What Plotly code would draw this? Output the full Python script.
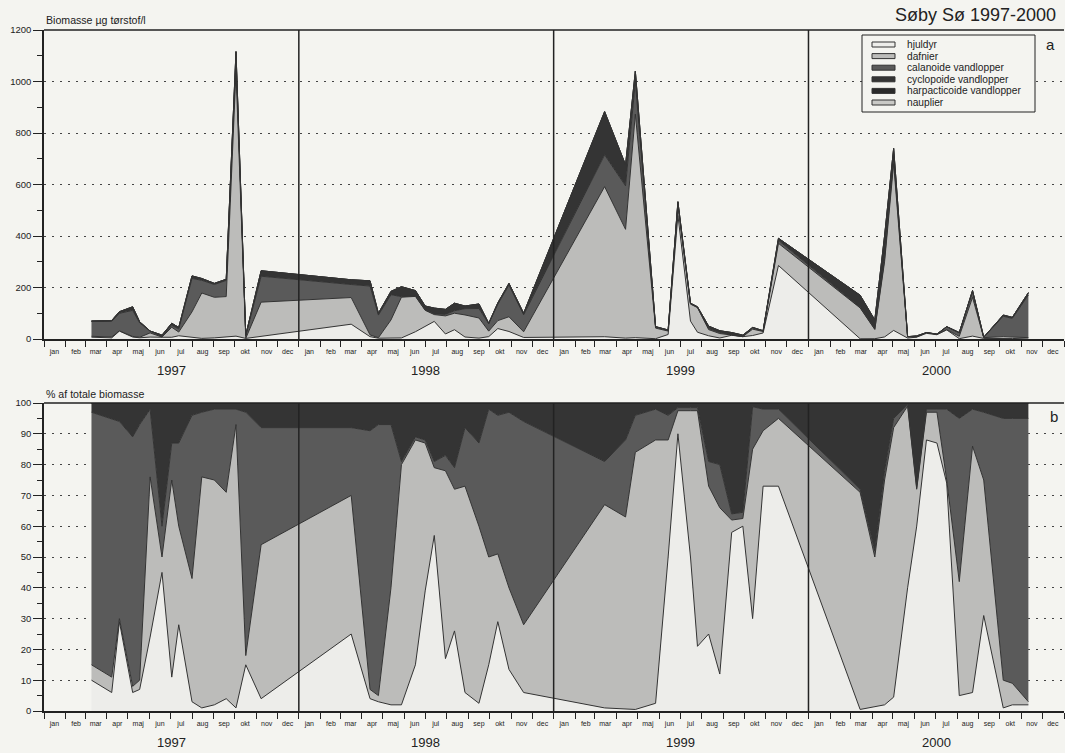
import plotly.graph_objects as go

# Sampling dates (Søby Sø zooplankton)
dates = [
    "1997-03-10", "1997-04-08", "1997-04-19", "1997-05-08", "1997-05-18", "1997-06-02",
    "1997-06-19", "1997-07-03", "1997-07-13", "1997-08-01", "1997-08-15", "1997-09-02",
    "1997-09-19", "1997-10-03", "1997-10-17", "1997-11-08",
    "1998-03-17", "1998-04-13", "1998-04-25", "1998-05-13", "1998-05-28", "1998-06-17",
    "1998-07-01", "1998-07-14", "1998-07-30", "1998-08-12", "1998-08-27", "1998-09-16",
    "1998-09-30", "1998-10-13", "1998-10-29", "1998-11-19",
    "1999-03-15", "1999-04-14", "1999-04-28", "1999-05-27", "1999-06-14", "1999-06-28",
    "1999-07-16", "1999-07-26", "1999-08-11", "1999-08-27", "1999-09-13", "1999-09-29",
    "1999-10-13", "1999-10-28", "1999-11-19",
    "2000-03-15", "2000-04-05", "2000-04-19", "2000-05-02", "2000-05-22", "2000-06-04",
    "2000-06-18", "2000-07-03", "2000-07-17", "2000-08-04", "2000-08-23", "2000-09-08",
    "2000-10-06", "2000-10-19", "2000-11-11",
]

# Total biomass, µg dry weight per litre
total = [
    70, 72, 106, 125, 67, 31, 15, 61, 45, 245, 235, 216, 232, 1116, 15, 265,
    230, 226, 100, 185, 203, 188, 128, 120, 115, 139, 128, 136, 61, 140, 216, 100,
    883, 676, 1040, 48, 35, 533, 139, 125, 50, 32, 25, 15, 45, 32, 391,
    170, 74, 400, 740, 9, 12, 25, 19, 48, 25, 188, 7, 93, 84, 180,
]

# Share of total biomass per group, %
hjuldyr = [
    10, 6, 29, 6, 7, 24, 45, 11, 28, 3, 1, 2, 4, 1, 15, 4,
    25, 4, 3, 2, 2, 15, 39, 57, 17, 26, 6, 2.5, 15, 29, 13.5, 6,
    1, 0.5, 0.5, 2.5, 50, 90, 50, 21, 25, 12, 58, 60, 30, 73, 73,
    0.5, 1.5, 2, 4.5, 40, 60, 88, 87, 74, 5, 6, 31, 1, 2, 2,
]
dafnier = [
    5, 5, 1, 2, 3, 52, 5, 64, 32, 40, 75, 73, 67, 92, 3, 50,
    45, 3, 2, 38, 78, 73, 48, 22, 61, 46, 67, 57.5, 35, 22, 26.5, 22,
    66, 62.5, 83.5, 85.5, 38, 7.5, 47.5, 76.5, 48, 54, 4, 2.5, 55, 18, 22,
    70.5, 48.5, 73, 87.5, 59, 12, 9, 10, 1, 37, 80, 44, 9, 7, 1,
]
calanoide = [
    82, 84, 64, 81, 83, 22, 10, 12, 27, 53, 21, 23, 27, 5, 79, 38,
    22, 84, 88, 53, 1, 1, 1, 2, 5, 7, 19, 27, 48, 45, 57, 66,
    14, 25, 12, 10, 8, 1, 1, 1, 8, 14, 2, 2, 13.8, 7, 3,
    1, 2, 3, 3, 0.5, 0.5, 1, 1, 23, 53, 12, 22, 85, 86, 92,
]
cyclopoide = [
    3, 5, 6, 11, 7, 2, 40, 13, 13, 4, 3, 2, 2, 2, 3, 8,
    8, 9, 7, 7, 19, 11, 12, 19, 17, 21, 8, 13, 2, 4, 3, 6,
    19, 12, 4, 2, 4, 1.5, 1.5, 1.5, 19, 20, 36, 35.5, 1.2, 2, 2,
    28, 48, 22, 5, 0.5, 27.5, 2, 2, 2, 5, 2, 3, 5, 5, 5,
]
harpacticoide = [0] * len(dates)
nauplier = [0] * len(dates)

groups = [
    ("hjuldyr", hjuldyr, "#ededea"),
    ("dafnier", dafnier, "#bcbcba"),
    ("calanoide vandlopper", calanoide, "#5a5a5a"),
    ("cyclopoide vandlopper", cyclopoide, "#343434"),
    ("harpacticoide vandlopper", harpacticoide, "#2a2a2a"),
    ("nauplier", nauplier, "#c9c9c6"),
]

months = ["jan", "feb", "mar", "apr", "maj", "jun", "jul", "aug", "sep", "okt", "nov", "dec"]
years = [1997, 1998, 1999, 2000]

W, H = 1065, 753
BG = "#f4f4f0"
INK = "#222222"
FONT = "Liberation Sans, Arial, sans-serif"


def px_x(p):
    return p / W


def px_y(p):
    return 1 - p / H


def label(x, y, text, size, xanchor="center", **kw):
    return dict(x=x, y=y, xref=kw.pop("xref", "paper"), yref="paper",
                xanchor=xanchor, yanchor="middle", text=text, showarrow=False,
                font=dict(size=size, color=INK, family=FONT), **kw)


fig = go.Figure()

for name, pct, color in groups:
    biomass = [t * p / 100 for t, p in zip(total, pct)]
    common = dict(
        x=dates, y=biomass, name=name, mode="lines",
        line=dict(color="#333333", width=1), fillcolor=color,
        showlegend=False, hoverinfo="skip",
    )
    fig.add_trace(go.Scatter(stackgroup="a", xaxis="x", yaxis="y", **common))
    fig.add_trace(go.Scatter(stackgroup="b", groupnorm="percent", xaxis="x2", yaxis="y2", **common))

mid_month = [f"{y}-{m:02d}-16" for y in years for m in range(1, 13)]
month_text = months * len(years)

xcommon = dict(
    type="date", range=["1997-01-01", "2001-01-01"],
    domain=[px_x(44), px_x(1064)], automargin=False,
    tickvals=mid_month, ticktext=month_text, ticks="",
    tickfont=dict(size=7, color=INK, family=FONT),
    ticklabelstandoff=5,
    showline=True, linecolor=INK, linewidth=1.5,
    showgrid=False, zeroline=False,
    minor=dict(ticks="outside", ticklen=6, tickcolor=INK, tickwidth=1,
               dtick="M1", tick0="1997-01-01", showgrid=False),
)
ycommon = dict(
    automargin=False,
    showline=True, linecolor=INK, linewidth=1.5,
    ticks="outside", ticklen=9, tickcolor=INK, tickwidth=1,
    tickfont=dict(size=9.5, color=INK, family=FONT),
    showgrid=True, gridcolor="#444444", gridwidth=1.4, griddash="2px,6px",
    zeroline=False,
)

fig.update_layout(
    width=W, height=H,
    margin=dict(l=0, r=0, t=0, b=0, pad=0, autoexpand=False),
    paper_bgcolor=BG, plot_bgcolor=BG,
    font=dict(family=FONT, color=INK),
    xaxis=dict(anchor="y", **xcommon),
    xaxis2=dict(anchor="y2", matches="x", **xcommon),
    yaxis=dict(domain=[px_y(339), px_y(30)], range=[0, 1200],
               tickvals=list(range(0, 1201, 200)),
               minor=dict(ticks="outside", ticklen=5, tickcolor=INK, dtick=100, showgrid=False),
               **ycommon),
    yaxis2=dict(domain=[px_y(711), px_y(403)], range=[0, 100],
                tickvals=list(range(0, 101, 10)),
                minor=dict(ticks="outside", ticklen=5, tickcolor=INK, dtick=5, showgrid=False),
                **ycommon),
)

shapes = []
# top frame of each panel and year separators
for ya, xa in (("y", "x"), ("y2", "x2")):
    shapes.append(dict(type="line", xref=f"{xa} domain", yref=f"{ya} domain",
                       x0=0, x1=1, y0=1, y1=1, line=dict(color=INK, width=1.5), layer="above"))
    for yr in years[1:]:
        shapes.append(dict(type="line", xref=xa, yref=f"{ya} domain",
                           x0=f"{yr}-01-01", x1=f"{yr}-01-01", y0=0, y1=1,
                           line=dict(color=INK, width=1.5), layer="above"))

annotations = []
# year labels under each panel
for yr in years:
    for ypix in (370, 742):
        annotations.append(label(f"{yr}-07-02", px_y(ypix), str(yr), 13, xref="x"))

annotations += [
    label(px_x(1058), px_y(15), "Søby Sø 1997-2000", 18, xanchor="right"),
    label(px_x(44), px_y(20), "Biomasse µg tørstof/l", 10.6, xanchor="left"),
    label(px_x(44), px_y(394), "% af totale biomasse", 10.6, xanchor="left"),
    label(px_x(1050), px_y(45), "a", 15),
    label(px_x(1054), px_y(417), "b", 15),
]

# legend box
shapes.append(dict(type="rect", xref="paper", yref="paper",
                   x0=px_x(862), x1=px_x(1035), y0=px_y(112), y1=px_y(35),
                   line=dict(color=INK, width=1), fillcolor=BG, layer="above"))
for i, (name, _, color) in enumerate(groups):
    yc = 44.5 + i * 11.6
    shapes.append(dict(type="rect", xref="paper", yref="paper",
                       x0=px_x(872), x1=px_x(895), y0=px_y(yc + 2.5), y1=px_y(yc - 2.5),
                       line=dict(color="#333333", width=1), fillcolor=color, layer="above"))
    annotations.append(label(px_x(905), px_y(yc), name, 10.2, xanchor="left"))

fig.update_layout(shapes=shapes, annotations=annotations)
fig.write_html("out.html")
